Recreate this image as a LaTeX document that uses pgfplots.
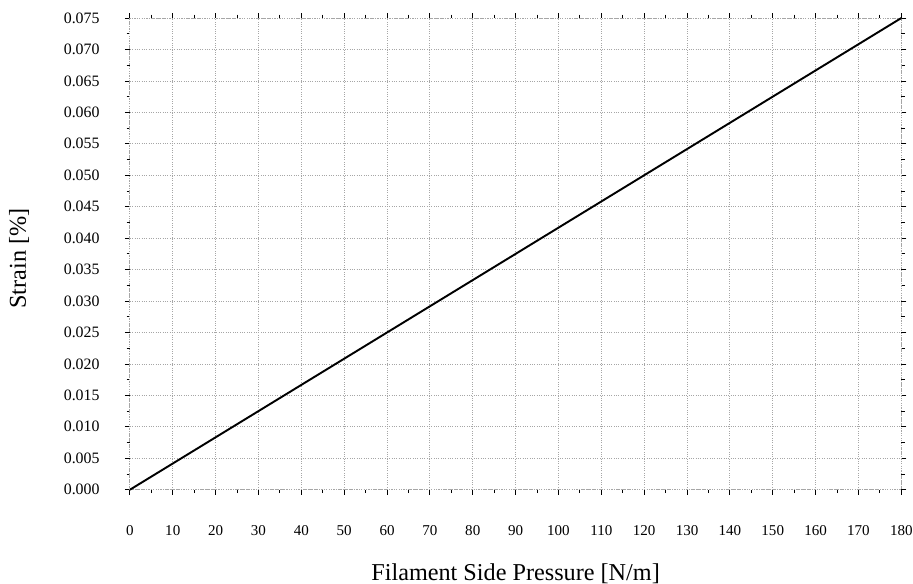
\documentclass[border=0pt]{standalone}
\usepackage{fontspec}
\setmainfont{Liberation Serif}
\usepackage{pgfplots}
\pgfplotsset{compat=1.18}

\begin{document}
\begin{tikzpicture}
\begin{axis}[
  scale only axis,
  width=462pt, height=282.5pt,
  xmin=0, xmax=180, ymin=0, ymax=0.075,
  xtick={0,10,...,180},
  ytick={0,0.005,...,0.0751},
  minor x tick num=1,
  minor y tick num=1,
  tick align=outside,
  major tick length=3pt,
  minor tick length=2pt,
  tick style={black, line width=0.5pt},
  grid=major,
  major grid style={densely dotted, gray!70, line width=0.5pt},
  axis line style={densely dotted, gray!70, line width=0.5pt},
  /pgf/number format/assume math mode=true,
  scaled y ticks=false,
  yticklabel style={/pgf/number format/fixed, /pgf/number format/precision=3,
    /pgf/number format/fixed zerofill, font=\fontsize{9.5}{11}\selectfont,
    inner sep=0pt, xshift=-15pt},
  xticklabel style={font=\fontsize{9}{11}\selectfont, inner sep=0pt, yshift=-18pt},
  xlabel={Filament Side Pressure [N/m]},
  ylabel={Strain [\%]},
  every axis x label/.style={at={(axis description cs:0.5,-0.177)}, anchor=center,
    inner sep=0pt, font=\fontsize{14.5}{17}\selectfont},
  every axis y label/.style={at={(axis description cs:-0.1437,0.49)}, rotate=90, anchor=center,
    inner sep=0pt, font=\fontsize{14.5}{17}\selectfont},
  clip=false,
]
\addplot[black, line width=1.15pt] coordinates {(0,0) (180,0.075)};
\end{axis}
% page margins around the plot area
\path ([xshift=-77.8pt,yshift=-55.7pt]current axis.south west)
  rectangle ([xshift=7pt,yshift=10.8pt]current axis.north east);
\end{tikzpicture}
\end{document}
